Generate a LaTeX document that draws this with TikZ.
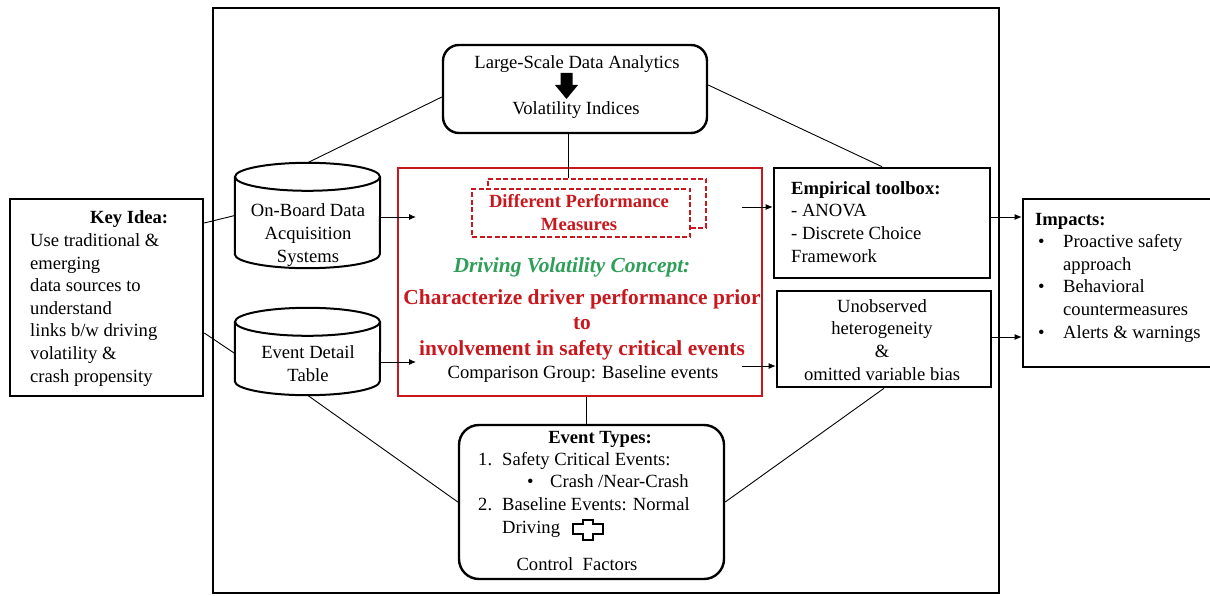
\documentclass[tikz,border=0pt]{standalone}
\usepackage{fontspec}
\setmainfont{Liberation Serif}
\usetikzlibrary{arrows.meta,calc}
\definecolor{ideared}{RGB}{200,24,30}
\definecolor{ideagreen}{RGB}{46,158,88}
\begin{document}
\begin{tikzpicture}[x=1pt,y=-1pt,
  body/.style={font=\fontsize{18.6}{22.6}\selectfont, inner sep=0pt},
  boldbody/.style={font=\fontsize{18.6}{22.2}\selectfont\bfseries, inner sep=0pt},
  big/.style={font=\fontsize{21.4}{25.5}\selectfont\bfseries, inner sep=0pt},
  sqbox/.style={draw, line width=2.6pt, inner sep=0pt},
  rndbox/.style={draw, line width=2.4pt, rounded corners=16pt, inner sep=0pt},
  slot/.style={inner sep=0pt},
  cylline/.style={line width=2pt, fill=white},
  link/.style={line width=0.9pt},
  arr/.style={line width=0.9pt, -{Latex[length=7pt,width=6pt]}},
  dashbox/.style={draw=ideared, line width=1.8pt, dash pattern=on 5pt off 2.5pt, fill=white, inner sep=0pt},
]
\useasboundingbox (0,0) rectangle (1210,596);

% outer frame
\node[draw, line width=2.4pt, minimum width=786pt, minimum height=585pt, inner sep=0pt] (frame) at (606,300.5) {};

% boxes
\node[sqbox, minimum width=193pt, minimum height=197pt] (key) at (106.5,297.5) {};
\node[rndbox, minimum width=264pt, minimum height=88pt] (topbox) at (575,89) {};
\node[slot, minimum width=145pt, minimum height=105pt] (cylA) at (307.5,215.5) {};
\node[slot, minimum width=145pt, minimum height=87pt] (cylB) at (307.5,351.5) {};
\node[draw=ideared, line width=2pt, inner sep=0pt, minimum width=364pt, minimum height=228pt] (red) at (580,282) {};
\node[sqbox, minimum width=216pt, minimum height=110pt] (emp) at (882,223) {};
\node[sqbox, minimum width=214pt, minimum height=96pt] (unob) at (884,339) {};
\node[sqbox, minimum width=188pt, minimum height=168pt] (imp) at (1117,283) {};
\node[rndbox, rounded corners=20pt, minimum width=265pt, minimum height=154pt] (events) at (591.5,502) {};

% stacked dashed boxes for the performance measures
\node[dashbox, minimum width=218pt, minimum height=49pt] (pmback) at (597,203.5) {};
\node[dashbox, minimum width=218pt, minimum height=48pt] (pmfront) at (581,213) {};

% cylinders
\foreach \c in {cylA,cylB}{
  \draw[cylline] ($(\c.north west)+(0,14)$) -- ($(\c.south west)+(0,-14)$)
    arc[start angle=180, end angle=360, x radius=72.5pt, y radius=14pt]
    -- ($(\c.north east)+(0,14)$);
  \draw[cylline] ($(\c.north)+(0,14)$) ellipse[x radius=72.5pt, y radius=14pt];
}

% block arrow and plus sign
\fill (560.5,73) -- (572.5,73) -- (572.5,85) -- (578,85) -- (566.5,99) -- (555,85) -- (560.5,85) -- cycle;
\draw[line width=1.1pt] (583,520) -- (593,520) -- (593,524) -- (603,524) -- (603,534) -- (593,534)
  -- (593,540) -- (583,540) -- (583,534) -- (573,534) -- (573,524) -- (583,524) -- cycle;

% texts (multi-line nodes are anchored on their last baseline)
\node[body, anchor=base] at (577,69) {Large-Scale Data Analytics};
\node[body, anchor=base] at (576,115) {Volatility Indices};
\node[body, anchor=base west, align=left] at (30,382) {\hspace*{60pt}\textbf{Key Idea:}\\Use traditional \&\\emerging\\data sources to\\understand\\links b/w driving\\volatility \&\\crash propensity};
\node[body, anchor=base, align=center] at (308,262) {On-Board Data\\Acquisition\\Systems};
\node[body, font=\fontsize{18.6}{23.5}\selectfont, anchor=base, align=center] at (308,381.5) {Event Detail\\Table};
\node[boldbody, text=ideared, anchor=base, align=center] at (579,230) {Different Performance\\Measures};
\node[big, text=ideagreen, anchor=base] at (572,272) {\itshape Driving Volatility Concept:};
\node[big, text=ideared, anchor=base, align=center] at (582,355) {Characterize driver performance prior\\to\\involvement in safety critical events};
\node[body, anchor=base] at (583,378) {Comparison Group: Baseline events};
\node[body, anchor=base west, align=left] at (791,262) {\textbf{Empirical toolbox:}\\- ANOVA\\- Discrete Choice\\Framework};
\node[body, anchor=base, align=center] at (882,380) {Unobserved\\heterogeneity\\\&\\omitted variable bias};
\node[body, anchor=base west, align=left] at (1035,338) {\textbf{Impacts:}\\\makebox[28pt][l]{\hspace*{3pt}•}Proactive safety\\\hspace*{28pt}approach\\\makebox[28pt][l]{\hspace*{3pt}•}Behavioral\\\hspace*{28pt}countermeasures\\\makebox[28pt][l]{\hspace*{3pt}•}Alerts \& warnings};
\node[boldbody, anchor=base] at (600,443) {Event Types:};
\node[body, anchor=base west, align=left] at (478,533) {\makebox[24pt][l]{1.}Safety Critical Events:\\\hspace*{49pt}\makebox[23pt][l]{•}Crash /Near-Crash\\\makebox[24pt][l]{2.}Baseline Events: Normal\\\hspace*{24pt}Driving};
\node[body, anchor=base] at (577,570) {Control~~Factors};

% connector rows and columns
\coordinate (rowA) at (0,217);
\coordinate (rowB) at (0,362);
\coordinate (rowC) at (0,207);
\coordinate (rowD) at (0,366);
\coordinate (rowE) at (0,337);
\coordinate (inX) at (416,0);
\coordinate (outX) at (742,0);
\coordinate (vx) at (568,0);
\coordinate (vy) at (586,0);

% connectors
\draw[link] ($(key.east)+(0,-74.5)$) -- (cylA.west);
\draw[link] ($(key.east)+(0,35.5)$) -- ($(cylB.west)+(0,2)$);
\draw[link] (cylA.north) -- ($(topbox.west)+(0,8)$);
\draw[link] ($(topbox.east)+(0,-4)$) -- (emp.north);
\draw[link] (topbox.south -| vx) -- (pmback.north -| vx);
\draw[arr] (cylA.east |- rowA) -- (inX |- rowA);
\draw[arr] (cylB.east |- rowB) -- (inX |- rowB);
\draw[arr] (outX |- rowC) -- (emp.west |- rowC);
\draw[arr] (outX |- rowD) -- (unob.west |- rowD);
\draw[arr] (emp.east |- rowA) -- (imp.west |- rowA);
\draw[arr] (unob.east |- rowE) -- (imp.west |- rowE);
\draw[link] (red.south -| vy) -- (events.north -| vy);
\draw[link] (cylB.south) -- (events.west);
\draw[link] (unob.south) -- (events.east);
\end{tikzpicture}
\end{document}
